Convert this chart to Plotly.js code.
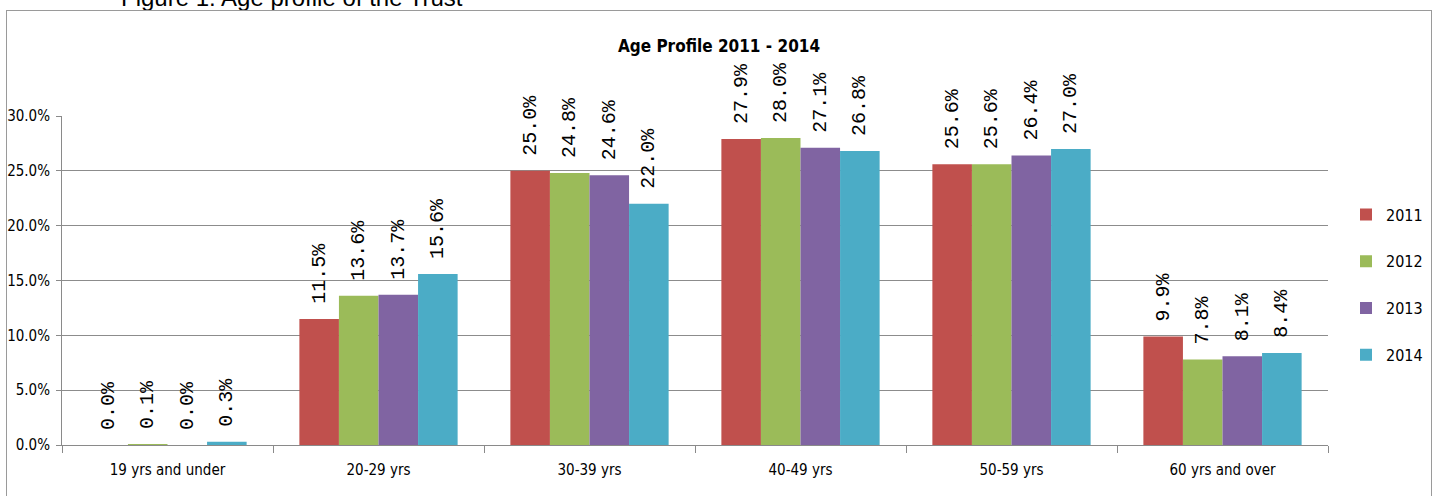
<!DOCTYPE html>
<html>
<head>
<meta charset="utf-8">
<script src="https://cdn.plot.ly/plotly-3.0.1.min.js"></script>
<style>
html,body{margin:0;padding:0;background:#fff;overflow:hidden;width:1438px;height:496px;}
#wrap{position:relative;width:1438px;height:496px;}
#chart{width:1438px;height:496px;display:block;}
#frame{position:absolute;left:6px;top:10px;width:1426px;height:520px;border:1.5px solid #9a9a9a;pointer-events:none;box-sizing:border-box;}
</style>
</head>
<body>
<div id="wrap">
<div id="chart"></div>
<div id="frame"></div>
</div>
<script>
const categories = ["19 yrs and under", "20-29 yrs", "30-39 yrs", "40-49 yrs", "50-59 yrs", "60 yrs and over"];
const years = ["2011", "2012", "2013", "2014"];
const values2011 = [0.0, 11.5, 25.0, 27.9, 25.6, 9.9];
const values2012 = [0.1, 13.6, 24.8, 28.0, 25.6, 7.8];
const values2013 = [0.0, 13.7, 24.6, 27.1, 26.4, 8.1];
const values2014 = [0.3, 15.6, 22.0, 26.8, 27.0, 8.4];
const yTickVals = [0, 5, 10, 15, 20, 25, 30];
const yTickText = ["0.0%", "5.0%", "10.0%", "15.0%", "20.0%", "25.0%", "30.0%"];

const series = [values2011, values2012, values2013, values2014];
const colors = ["#C0504D", "#9BBB59", "#8064A2", "#4BACC6"];
const narrow = "'DejaVu Sans Condensed', 'Liberation Sans Narrow', sans-serif";

const traces = series.map((vals, i) => ({
  type: "bar",
  name: years[i],
  x: categories,
  y: vals,
  marker: {color: colors[i], line: {width: 0}},
  texttemplate: "\u00a0%{y:.1f}%",
  textposition: "outside",
  textangle: -90,
  constraintext: "none",
  cliponaxis: false,
  textfont: {family: "'Liberation Mono', 'DejaVu Sans Mono', monospace", size: 20, color: "#000"},
  legendgroup: "g" + i,
  hoverinfo: "x+y+name"
}));

// plot area geometry helpers (pixels)
const L = 62, R = 1328, T = 116, B = 445;
const px2x = p => (p - L) / (R - L);
const py2y = p => (B - p) / (B - T);

const layout = {
  width: 1438, height: 496,
  margin: {l: L, r: 1438 - R, t: T, b: 496 - B, autoexpand: false},
  paper_bgcolor: "rgba(0,0,0,0)", plot_bgcolor: "rgba(0,0,0,0)",
  barmode: "group", bargap: 0.25, bargroupgap: 0,
  showlegend: true,
  title: {
    text: "<b>Age Profile 2011 - 2014</b>",
    font: {family: narrow, size: 17, color: "#000"},
    xref: "container", x: 719 / 1438, xanchor: "center",
    yref: "container", y: 1 - 46 / 496, yanchor: "middle"
  },
  legend: {
    x: px2x(1346), xanchor: "left",
    y: py2y(285), yanchor: "middle",
    font: {family: narrow, size: 16, color: "#000"},
    traceorder: "grouped", tracegroupgap: 23,
    itemwidth: 30, bgcolor: "rgba(0,0,0,0)"
  },
  xaxis: {
    type: "category",
    showgrid: false,
    showline: true, linecolor: "#8a8a8a", linewidth: 1,
    ticks: "outside", tickson: "boundaries", ticklen: 7, tickcolor: "#8a8a8a",
    ticklabelstandoff: 11,
    tickfont: {family: narrow, size: 15, color: "#000"},
    fixedrange: true
  },
  yaxis: {
    range: [0, 30],
    tickmode: "array", tickvals: yTickVals, ticktext: yTickText,
    showgrid: true, gridcolor: "#8c8c8c", gridwidth: 1,
    zeroline: false,
    showline: true, linecolor: "#8a8a8a", linewidth: 1,
    ticks: "outside", ticklen: 5, tickcolor: "#8a8a8a",
    ticklabelstandoff: 3,
    tickfont: {family: narrow, size: 15, color: "#000"},
    fixedrange: true
  },
  annotations: [{
    text: "Figure 1: Age profile of the Trust",
    xref: "paper", yref: "paper",
    x: px2x(119), xanchor: "left",
    y: py2y(13), yanchor: "bottom",
    showarrow: false,
    font: {family: "'Liberation Sans', Arial, sans-serif", size: 24, color: "#000"}
  }]
};

Plotly.newPlot("chart", traces, layout, {displayModeBar: false, staticPlot: true});
</script>
</body>
</html>
